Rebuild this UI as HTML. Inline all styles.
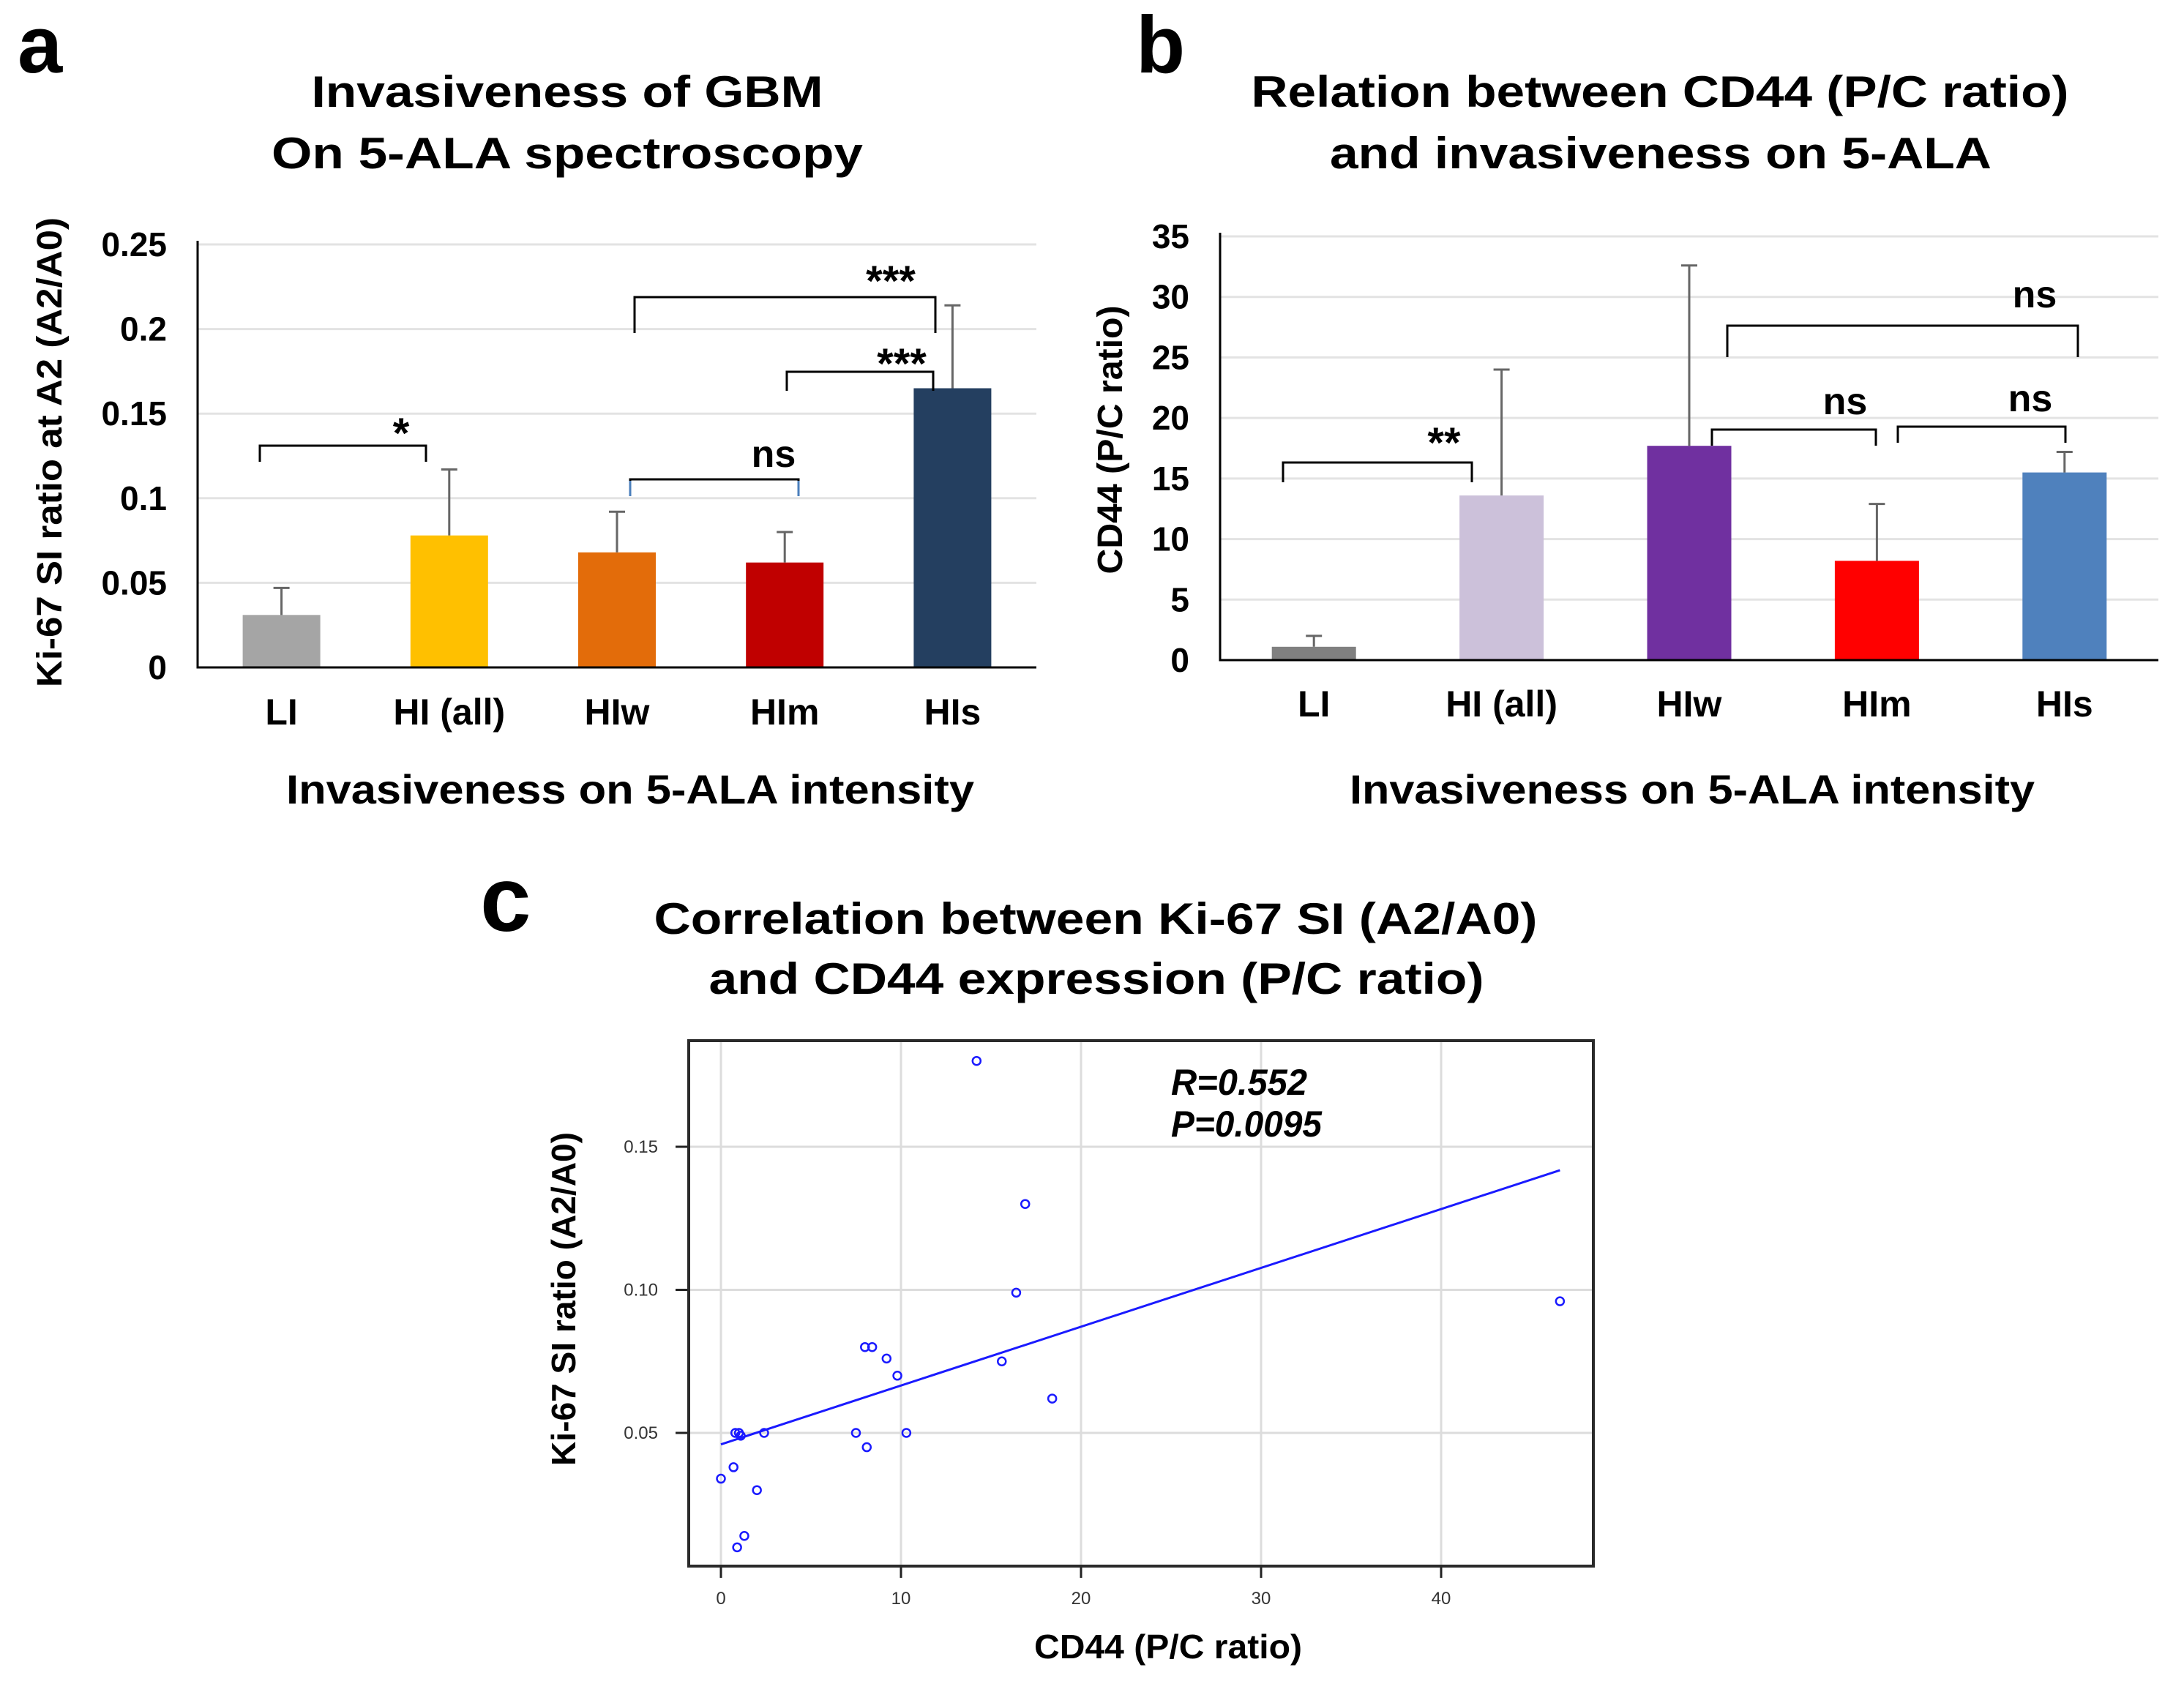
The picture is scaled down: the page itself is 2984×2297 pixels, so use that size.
<!DOCTYPE html>
<html><head><meta charset="utf-8">
<style>
html,body{margin:0;padding:0;background:#fff;}
svg{display:block;font-family:"Liberation Sans",Arial,sans-serif;}
</style></head>
<body>
<svg id="fig" width="2984" height="2297" viewBox="0 0 2984 2297" xmlns="http://www.w3.org/2000/svg">
<rect x="0" y="0" width="2984" height="2297" fill="#fff"/>
<g id="pa"></g>
<g id="pb"></g>
<g id="pc"></g>
</svg>
<script>
// ---- Panel a data ----
const catsA = ["LI","HI (all)","HIw","HIm","HIs"];
const meanA = [0.031,0.078,0.068,0.062,0.165];
const errTopA = [0.047,0.117,0.092,0.080,0.214];
const colorsA = ["#a5a5a5","#ffc000","#e36c0a","#c00000","#243f60"];
const ticksA = [0,0.05,0.1,0.15,0.2,0.25];
const tickLabA = ["0","0.05","0.1","0.15","0.2","0.25"];
// ---- Panel b data ----
const catsB = ["LI","HI (all)","HIw","HIm","HIs"];
const meanB = [1.1,13.6,17.7,8.2,15.5];
const errTopB = [2.0,24.0,32.6,12.9,17.2];
const colorsB = ["#808080","#ccc1da","#7030a0","#ff0000","#4f81bd"];
const ticksB = [0,5,10,15,20,25,30,35];
// ---- Panel c data ----
const cdX = [14.2,16.9,16.4,46.6,8.0,8.4,9.2,15.6,9.8,18.4,7.5,10.3,8.1,0.8,1.0,1.1,2.4,0.7,0.0,2.0,1.3,0.9];
const kiY = [0.180,0.130,0.099,0.096,0.080,0.080,0.076,0.075,0.070,0.062,0.050,0.050,0.045,0.050,0.050,0.049,0.050,0.038,0.034,0.030,0.014,0.010];
const fitX = [0,46.6];
const fitY = [0.046,0.1418];
const ticksCX = [0,10,20,30,40];
const ticksCY = [0.05,0.10,0.15];
const tickLabCY = ["0.05","0.10","0.15"];

const NS="http://www.w3.org/2000/svg";
function mk(parent,tag,attrs,text){
  const e=document.createElementNS(NS,tag);
  for(const k in attrs) e.setAttribute(k,attrs[k]);
  if(text!==undefined) e.textContent=text;
  parent.appendChild(e); return e;
}

// ---------- Panel A ----------
(function(){
  const g=document.getElementById('pa');
  const L=270,R=1416,B=912,T=334,maxV=0.25;
  const y=v=>B-(v/maxV)*(B-T);
  const band=(R-L)/catsA.length;
  const xc=i=>L+band*(i+0.5);
  const bw=106;
  let t;
  t=mk(g,'text',{x:24,y:99,'font-size':110,'font-weight':'bold'},'a');
  
  t=mk(g,'text',{x:775,y:146,'font-size':60,'font-weight':'bold','text-anchor':'middle',textLength:699,lengthAdjust:'spacingAndGlyphs'},'Invasiveness of GBM');
  
  t=mk(g,'text',{x:775,y:230,'font-size':60,'font-weight':'bold','text-anchor':'middle',textLength:808,lengthAdjust:'spacingAndGlyphs'},'On 5-ALA  spectroscopy');
  
  ticksA.forEach((v,i)=>{
    if(v>0){const l=mk(g,'line',{x1:L,x2:R,y1:y(v),y2:y(v),stroke:'#e3e3e3','stroke-width':3});
    }
    const tl=mk(g,'text',{x:228,y:y(v)+16,'font-size':46,'font-weight':'bold','text-anchor':'end'},tickLabA[i]);
    
  });
  catsA.forEach((c,i)=>{
    const r=mk(g,'rect',{x:xc(i)-bw/2,y:y(meanA[i]),width:bw,height:B-y(meanA[i]),fill:colorsA[i]});
    
    const e=mk(g,'path',{d:`M${xc(i)} ${y(meanA[i])}V${y(errTopA[i])}M${xc(i)-11} ${y(errTopA[i])}H${xc(i)+11}`,stroke:'#666',fill:'none','stroke-width':3});
    
    const tl=mk(g,'text',{x:xc(i),y:990,'font-size':50,'font-weight':'bold','text-anchor':'middle'},c);
    
  });
  let a=mk(g,'path',{d:`M${L} ${T-5}V${B}H${R}`,stroke:'#000','stroke-width':3,fill:'none'});
  
  t=mk(g,'text',{x:861,y:1098,'font-size':56,'font-weight':'bold','text-anchor':'middle',textLength:940,lengthAdjust:'spacingAndGlyphs'},'Invasiveness on 5-ALA intensity');
  
  t=mk(g,'text',{x:0,y:0,'font-size':48,'font-weight':'bold','text-anchor':'middle',transform:'translate(84,618) rotate(-90)',textLength:642,lengthAdjust:'spacingAndGlyphs'},'Ki-67 SI ratio at A2 (A2/A0)');
  
  const br=[[355,582,609,631,'*',548,600,'#000'],[861,1091,655,678,'ns',1057,638,'#000'],[867,1278,406,455,'***',1217,392,'#000'],[1075,1275,508,534,'***',1232,505,'#000']];
  br.forEach((b,k)=>{
    const p=mk(g,'path',{d:`M${b[0]} ${b[3]}V${b[2]}H${b[1]}V${b[3]}`,stroke:'#000','stroke-width':3,fill:'none'});
    
    if(k==1){const s=mk(g,'path',{d:`M${b[0]} ${b[2]+2}V${b[3]}M${b[1]} ${b[2]+2}V${b[3]}`,stroke:'#4a7ebb','stroke-width':3,fill:'none'});
      }
    const s2=mk(g,'text',{x:b[5],y:b[6]+(b[4]=='ns'?0:12),'font-size':b[4]=='ns'?52:58,'font-weight':'bold','text-anchor':'middle'},b[4]);
    
  });
})();

// ---------- Panel B ----------
(function(){
  const g=document.getElementById('pb');
  const L=1667,R=2949,B=902,T=323,maxV=35;
  const y=v=>B-(v/maxV)*(B-T);
  const band=(R-L)/catsB.length;
  const xc=i=>L+band*(i+0.5);
  const bw=115;
  let t;
  t=mk(g,'text',{x:1552,y:99,'font-size':110,'font-weight':'bold'},'b');
  
  t=mk(g,'text',{x:2268,y:146,'font-size':60,'font-weight':'bold','text-anchor':'middle',textLength:1117,lengthAdjust:'spacingAndGlyphs'},'Relation  between CD44 (P/C ratio)');
  
  t=mk(g,'text',{x:2269,y:230,'font-size':60,'font-weight':'bold','text-anchor':'middle',textLength:904,lengthAdjust:'spacingAndGlyphs'},'and invasiveness on 5-ALA');
  
  ticksB.forEach(v=>{
    if(v>0){const l=mk(g,'line',{x1:L,x2:R,y1:y(v),y2:y(v),stroke:'#e3e3e3','stroke-width':3});
    }
    const tl=mk(g,'text',{x:1625,y:y(v)+16,'font-size':46,'font-weight':'bold','text-anchor':'end'},String(v));
    
  });
  catsB.forEach((c,i)=>{
    const r=mk(g,'rect',{x:xc(i)-bw/2,y:y(meanB[i]),width:bw,height:B-y(meanB[i]),fill:colorsB[i]});
    
    const e=mk(g,'path',{d:`M${xc(i)} ${y(meanB[i])}V${y(errTopB[i])}M${xc(i)-11} ${y(errTopB[i])}H${xc(i)+11}`,stroke:'#666',fill:'none','stroke-width':3});
    
    const tl=mk(g,'text',{x:xc(i),y:979,'font-size':50,'font-weight':'bold','text-anchor':'middle'},c);
    
  });
  let a=mk(g,'path',{d:`M${L} ${T-5}V${B}H${R}`,stroke:'#000','stroke-width':3,fill:'none'});
  
  t=mk(g,'text',{x:2312,y:1098,'font-size':56,'font-weight':'bold','text-anchor':'middle',textLength:936,lengthAdjust:'spacingAndGlyphs'},'Invasiveness on 5-ALA intensity');
  
  t=mk(g,'text',{x:0,y:0,'font-size':48,'font-weight':'bold','text-anchor':'middle',transform:'translate(1533,601) rotate(-90)',textLength:367,lengthAdjust:'spacingAndGlyphs'},'CD44 (P/C ratio)');
  
  const br=[[1753,2011,632,659,'**',1973,617],[2360,2839,445,488,'ns',2780,420],[2339,2563,587,609,'ns',2521,566],[2593,2822,583,605,'ns',2774,562]];
  br.forEach(b=>{
    const p=mk(g,'path',{d:`M${b[0]} ${b[3]}V${b[2]}H${b[1]}V${b[3]}`,stroke:'#000','stroke-width':3,fill:'none'});
    
    const s2=mk(g,'text',{x:b[5],y:b[6]+(b[4]=='ns'?0:8),'font-size':b[4]=='ns'?52:58,'font-weight':'bold','text-anchor':'middle'},b[4]);
    
  });
})();

// ---------- Panel C ----------
(function(){
  const g=document.getElementById('pc');
  const L=941,R=2177,T=1422,B=2140;
  const x=v=>985+v*24.6;
  const y=v=>1958-(v-0.05)/0.05*195.5;
  let t;
  t=mk(g,'text',{x:656,y:1272,'font-size':125,'font-weight':'bold'},'c');
  
  t=mk(g,'text',{x:1497,y:1276,'font-size':60,'font-weight':'bold','text-anchor':'middle',textLength:1207,lengthAdjust:'spacingAndGlyphs'},'Correlation  between Ki-67 SI (A2/A0)');
  
  t=mk(g,'text',{x:1498,y:1358,'font-size':60,'font-weight':'bold','text-anchor':'middle',textLength:1059,lengthAdjust:'spacingAndGlyphs'},'and CD44 expression (P/C ratio)');
  
  ticksCX.forEach(v=>{
    const l=mk(g,'line',{x1:x(v),x2:x(v),y1:T,y2:B,stroke:'#dcdcdc','stroke-width':3});
    
    const k=mk(g,'line',{x1:x(v),x2:x(v),y1:B,y2:B+16,stroke:'#222','stroke-width':3});
    
    const tl=mk(g,'text',{x:x(v),y:2192,'font-size':24,fill:'#333','text-anchor':'middle'},String(v));
    
  });
  ticksCY.forEach((v,i)=>{
    const l=mk(g,'line',{x1:L,x2:R,y1:y(v),y2:y(v),stroke:'#dcdcdc','stroke-width':3});
    
    const k=mk(g,'line',{x1:L-18,x2:L,y1:y(v),y2:y(v),stroke:'#222','stroke-width':3});
    
    const tl=mk(g,'text',{x:899,y:y(v)+8,'font-size':24,fill:'#333','text-anchor':'end'},tickLabCY[i]);
    
  });
  let bx=mk(g,'rect',{x:L,y:T,width:R-L,height:B-T,fill:'none',stroke:'#2a2a2a','stroke-width':4});
  
  const fl=mk(g,'line',{x1:x(fitX[0]),y1:y(fitY[0]),x2:x(fitX[1]),y2:y(fitY[1]),stroke:'#1a1aff','stroke-width':3});
  
  cdX.forEach((v,i)=>{
    const c=mk(g,'circle',{cx:x(v),cy:y(kiY[i]),r:5.5,fill:'none',stroke:'#1a1aff','stroke-width':2.5});
    
  });
  t=mk(g,'text',{x:1600,y:1496,'font-size':50,'font-weight':'bold','font-style':'italic',textLength:186,lengthAdjust:'spacingAndGlyphs'},'R=0.552');
  
  t=mk(g,'text',{x:1600,y:1553,'font-size':50,'font-weight':'bold','font-style':'italic',textLength:206,lengthAdjust:'spacingAndGlyphs'},'P=0.0095');
  
  t=mk(g,'text',{x:1596,y:2266,'font-size':46,'font-weight':'bold','text-anchor':'middle',textLength:366,lengthAdjust:'spacingAndGlyphs'},'CD44 (P/C ratio)');
  
  t=mk(g,'text',{x:0,y:0,'font-size':46,'font-weight':'bold','text-anchor':'middle',transform:'translate(786,1775) rotate(-90)',textLength:456,lengthAdjust:'spacingAndGlyphs'},'Ki-67 SI ratio (A2/A0)');
  
})();
</script>
</body></html>
